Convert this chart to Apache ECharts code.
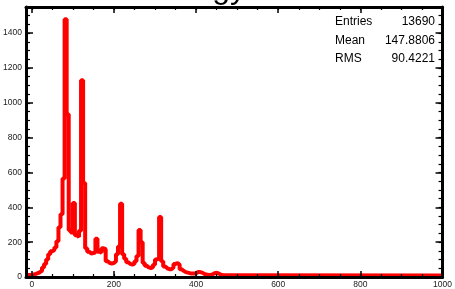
<!DOCTYPE html>
<html>
<head>
<meta charset="utf-8">
<script src="https://cdn.jsdelivr.net/npm/echarts@6/dist/echarts.min.js"></script>
<style>
  html, body { margin: 0; padding: 0; background: #fff; }
  #chart { width: 455px; height: 289px; }
</style>
</head>
<body>
<div id="chart"></div>
<script>
// histogram "Energy" (ROOT style)
var titleText = 'Energy';
var statNames = ['Entries', 'Mean', 'RMS'];
var statValues = ['13690', '147.8806', '90.4221'];

var xMajorTicks = [0, 200, 400, 600, 800, 1000];
var yMajorTicks = [0, 200, 400, 600, 800, 1000, 1200, 1400];

// bins of width 5 starting at -15
var binStart = -15;
var binWidth = 5;
var counts = [
  12, 12, 12, 15, 18, 22, 28, 35, 55, 75,
  100, 130, 148, 155, 170, 205, 285, 360, 565, 1480,
  935, 268, 255, 425, 240, 230, 265, 1130, 540, 165,
  145, 135, 138, 140, 220, 145, 140, 165, 160, 90,
  80, 78, 80, 90, 130, 175, 420, 130, 105, 85,
  75, 72, 75, 90, 120, 270, 200, 80, 65, 55,
  52, 55, 70, 100, 110, 345, 90, 60, 50, 45,
  45, 55, 75, 80, 70, 45, 35, 28, 25, 22,
  20, 20, 22, 28, 28, 25, 18, 14, 12, 12,
  15, 22, 24, 20, 14, 10, 10
];
// flat tail up to the end of the range
var tailEdges = [470, 1000];
var tailCount = 8;

var xMin = -14, xMax = 1000;
var yMin = 0, yMax = 1550;

function minorOf(major, step, max) {
  var out = [];
  for (var v = major[0]; v <= max; v += step) out.push(v);
  return out;
}
var xMinorTicks = minorOf(xMajorTicks, 50, xMax);
var yMinorTicks = minorOf(yMajorTicks, 50, yMax);

var histData = [];
for (var i = 0; i < counts.length; i++) {
  histData.push([binStart + i * binWidth, counts[i]]);
}
histData.push([tailEdges[0], tailCount]);
histData.push([tailEdges[1], tailCount]);

var font = 'Liberation Sans, Arial, Helvetica, sans-serif';
var plainNum = function (v) { return String(v); };

function xAxisDef(pos, ticks, len, showLine, showLabel) {
  return {
    type: 'value', position: pos, min: xMin, max: xMax, z: 5,
    splitLine: { show: false },
    axisLine: { show: showLine, onZero: false, lineStyle: { color: '#000', width: 3 } },
    axisTick: { show: true, inside: true, length: len, customValues: ticks,
      lineStyle: { color: '#000', width: len > 4 ? 1.5 : 1.2 } },
    axisLabel: { show: showLabel, customValues: ticks, margin: 3, formatter: plainNum,
      fontSize: 8.5, color: '#222', fontFamily: font }
  };
}
function yAxisDef(pos, ticks, len, showLine, showLabel) {
  return {
    type: 'value', position: pos, min: yMin, max: yMax, z: 5,
    splitLine: { show: false },
    axisLine: { show: showLine, onZero: false, lineStyle: { color: '#000', width: 3 } },
    axisTick: { show: true, inside: true, length: len, customValues: ticks,
      lineStyle: { color: '#000', width: len > 4 ? 1.5 : 1.2 } },
    axisLabel: { show: showLabel, customValues: ticks, margin: 4, formatter: plainNum,
      fontSize: 8.5, color: '#222', fontFamily: font }
  };
}

var chart = echarts.init(document.getElementById('chart'));

var statGraphics = [];
for (var k = 0; k < statNames.length; k++) {
  var yy = 23 + k * 18.3;
  statGraphics.push({
    type: 'text', left: 335, top: yy - 7, z: 10,
    style: { text: statNames[k], fontSize: 12, fontFamily: font, fill: '#000' }
  });
  statGraphics.push({
    type: 'text', right: 455 - 435, top: yy - 7, z: 10,
    style: { text: statValues[k], fontSize: 12, fontFamily: font, fill: '#000' }
  });
}

chart.setOption({
  animation: false,
  backgroundColor: '#fff',
  grid: { left: 26, right: 6.3, top: 7, bottom: 9, containLabel: false },
  xAxis: [
    xAxisDef('bottom', xMajorTicks, 6, true, true),
    xAxisDef('bottom', xMinorTicks, 3, false, false),
    xAxisDef('top', xMajorTicks, 6, true, false),
    xAxisDef('top', xMinorTicks, 3, false, false)
  ],
  yAxis: [
    yAxisDef('left', yMajorTicks, 7, true, true),
    yAxisDef('left', yMinorTicks, 4, false, false),
    yAxisDef('right', yMajorTicks, 7, true, false),
    yAxisDef('right', yMinorTicks, 4, false, false)
  ],
  graphic: [
    {
      type: 'text', z: 10,
      style: {
        text: titleText, x: 246, y: 5, fontSize: 32, fontFamily: font,
        fill: '#000', align: 'right', verticalAlign: 'bottom'
      }
    }
  ].concat(statGraphics),
  series: [{
    type: 'line',
    xAxisIndex: 0,
    yAxisIndex: 0,
    step: 'end',
    symbol: 'none',
    data: histData,
    lineStyle: { color: '#ff0000', width: 4 },
    z: 2
  }]
});
</script>
</body>
</html>
